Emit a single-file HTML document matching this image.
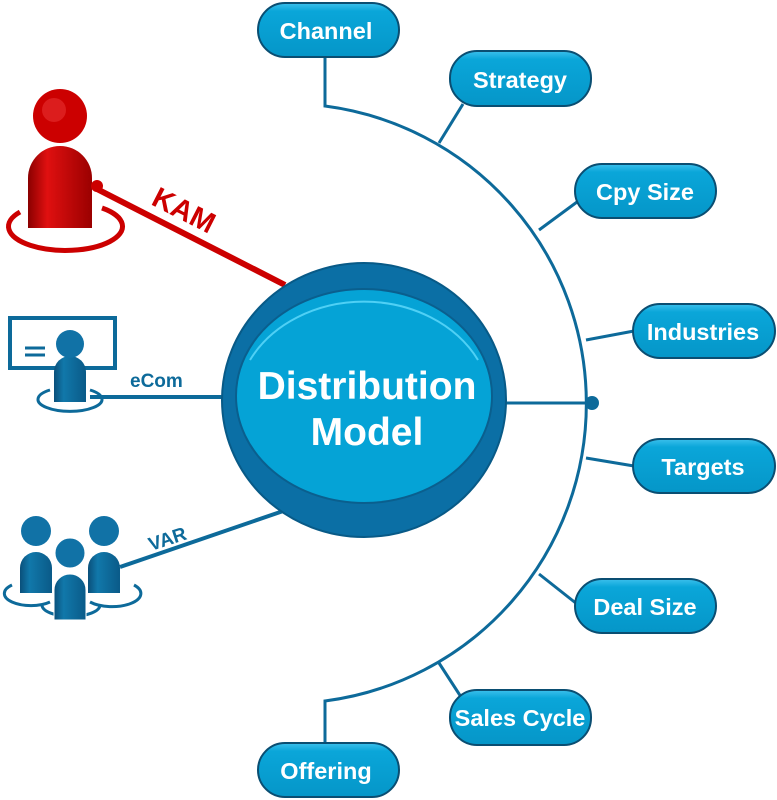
<!DOCTYPE html>
<html><head><style>
body{margin:0;background:#fff;width:777px;height:800px;overflow:hidden}
svg{display:block}
text{font-family:"Liberation Sans",Arial,sans-serif;font-weight:bold}
</style></head><body>
<svg width="777" height="800" viewBox="0 0 777 800">
<defs>
<linearGradient id="pill" x1="0" y1="0" x2="0" y2="1">
<stop offset="0" stop-color="#3cc0ec"/><stop offset="0.15" stop-color="#0aa6d9"/><stop offset="1" stop-color="#0596c8"/>
</linearGradient>
<linearGradient id="red" x1="0" y1="0" x2="1" y2="0">
<stop offset="0" stop-color="#8a0000"/><stop offset="0.3" stop-color="#e01010"/><stop offset="1" stop-color="#9a0000"/>
</linearGradient>
<linearGradient id="blu" x1="0" y1="0" x2="1" y2="0">
<stop offset="0" stop-color="#0a4f7a"/><stop offset="0.3" stop-color="#1178aa"/><stop offset="1" stop-color="#0a5a88"/>
</linearGradient>
</defs>
<g fill="none" stroke="#0d6a9a" stroke-width="3">
<path d="M325 55 V106 A300 300 0 0 1 325 701 V745"/>
<line x1="463" y1="104" x2="439" y2="143"/>
<line x1="577" y1="202" x2="539" y2="230"/>
<line x1="634" y1="331" x2="586" y2="340"/>
<line x1="505" y1="403" x2="592" y2="403"/>
<line x1="634" y1="466" x2="586" y2="458"/>
<line x1="577" y1="604" x2="539" y2="574"/>
<line x1="463" y1="700" x2="439" y2="663"/>
<line x1="90" y1="397" x2="228" y2="397" stroke-width="4"/>
<line x1="120" y1="567" x2="292" y2="508" stroke-width="4"/>
</g>
<circle cx="592" cy="403" r="7" fill="#0d6a9a"/>
<line x1="95" y1="188" x2="285" y2="285" stroke="#cc0000" stroke-width="6"/>
<text x="0" y="0" font-size="29" fill="#cc0000" transform="translate(150,204) rotate(27)">KAM</text>
<text x="130" y="387" font-size="19" fill="#0d6a9a">eCom</text>
<text x="0" y="0" font-size="19" fill="#0d6a9a" transform="translate(151,551) rotate(-18)">VAR</text>
<!-- KAM person -->
<path d="M20 212 A57 24 0 1 0 102 208" fill="none" stroke="#cc0000" stroke-width="5"/>
<path d="M28 228 V178 A32 32 0 0 1 92 178 V228 Z" fill="url(#red)"/>
<circle cx="60" cy="116" r="27" fill="#cc0000"/>
<circle cx="54" cy="110" r="12" fill="#e63030" opacity="0.6"/>
<circle cx="97" cy="186" r="6" fill="#cc0000"/>
<!-- eCom -->
<rect x="10" y="318" width="105" height="50" fill="none" stroke="#0d6a9a" stroke-width="4"/>
<line x1="25" y1="348" x2="45" y2="348" stroke="#0d6a9a" stroke-width="3"/>
<line x1="25" y1="355" x2="45" y2="355" stroke="#0d6a9a" stroke-width="3"/>
<path d="M50 390 A32 12 0 1 0 90 390" fill="none" stroke="#0d6a9a" stroke-width="3"/>
<path d="M54 402 V372 A16 16 0 0 1 86 372 V402 Z" fill="url(#blu)"/>
<circle cx="70" cy="344" r="14" fill="#1172a6"/>
<!-- VAR group -->
<path d="M12 585 A22 10 0 0 0 50 602" fill="none" stroke="#0d6a9a" stroke-width="3"/>
<path d="M90 602 A22 10 0 0 0 134 585" fill="none" stroke="#0d6a9a" stroke-width="3"/>
<path d="M42 605 A28 11 0 1 0 100 605" fill="none" stroke="#0d6a9a" stroke-width="3"/>
<path d="M20 593 V568 A16 16 0 0 1 52 568 V593 Z" fill="url(#blu)"/>
<circle cx="36" cy="531" r="15" fill="#1172a6"/>
<path d="M88 593 V568 A16 16 0 0 1 120 568 V593 Z" fill="url(#blu)"/>
<circle cx="104" cy="531" r="15" fill="#1172a6"/>
<path d="M54 620 V590 A16 16 0 0 1 86 590 V620 Z" fill="url(#blu)" stroke="#fff" stroke-width="1"/>
<circle cx="70" cy="553" r="15" fill="#1172a6" stroke="#fff" stroke-width="1"/>
<!-- Center -->
<ellipse cx="364" cy="400" rx="142" ry="137" fill="#0b6fa5" stroke="#085a87" stroke-width="2"/>
<ellipse cx="364" cy="396" rx="128" ry="107" fill="#05a3d6" stroke="#0a5f8e" stroke-width="2"/>
<path d="M250 360 A128 107 0 0 1 478 360" fill="none" stroke="#4fd0f5" stroke-width="2"/>
<text x="367" y="399" font-size="39" fill="#fff" text-anchor="middle">Distribution</text>
<text x="367" y="445" font-size="39" fill="#fff" text-anchor="middle">Model</text>
<!-- pills -->
<g stroke="#0a4e72" stroke-width="2" fill="url(#pill)">
<rect x="258" y="3" width="141" height="54" rx="27"/>
<rect x="450" y="51" width="141" height="55" rx="27"/>
<rect x="575" y="164" width="141" height="54" rx="27"/>
<rect x="633" y="304" width="142" height="54" rx="27"/>
<rect x="633" y="439" width="142" height="54" rx="27"/>
<rect x="575" y="579" width="141" height="54" rx="27"/>
<rect x="450" y="690" width="141" height="55" rx="27"/>
<rect x="258" y="743" width="141" height="54" rx="27"/>
</g>
<g fill="#fff" font-size="23.5" text-anchor="middle">
<text x="326" y="39">Channel</text>
<text x="520" y="88">Strategy</text>
<text x="645" y="200">Cpy Size</text>
<text x="703" y="340">Industries</text>
<text x="703" y="475">Targets</text>
<text x="645" y="615">Deal Size</text>
<text x="520" y="726">Sales Cycle</text>
<text x="326" y="779">Offering</text>
</g>
</svg>
</body></html>
